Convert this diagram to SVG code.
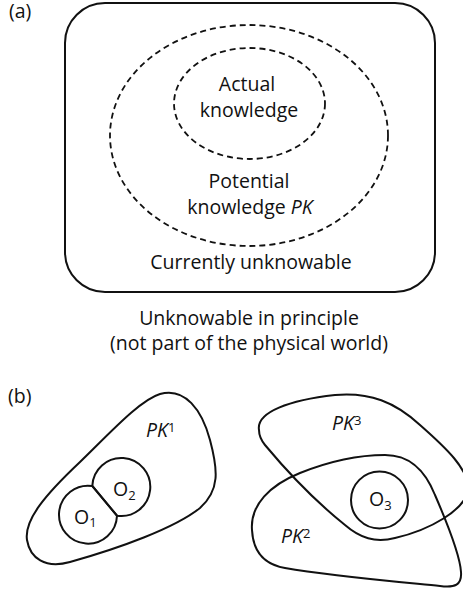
<svg xmlns="http://www.w3.org/2000/svg" width="463" height="590" viewBox="0 0 463 590">
<style>
  text { font-family: "Open Sans", "Noto Sans", "Liberation Sans", sans-serif; font-size: 19.5px; fill: #111; }
  .c { text-anchor: middle; }
  .it { font-style: italic; }
  .sub { font-size: 13px; font-style: normal; }
  .solid { fill: none; stroke: #111; stroke-width: 2; }
  .dash { fill: none; stroke: #111; stroke-width: 1.8; stroke-dasharray: 6 4; }
</style>
<rect width="463" height="590" fill="#fff"/>
<g id="panel-a">
  <text id="label-a" x="9" y="18">(a)</text>
  <g id="currently-unknowable">
    <rect class="solid" x="65" y="3" width="370" height="289" rx="40" ry="40"/>
    <text class="c" x="251" y="269">Currently unknowable</text>
  </g>
  <g id="potential-knowledge">
    <ellipse class="dash" cx="249" cy="135.5" rx="139" ry="110.5"/>
    <text class="c" x="249" y="188">Potential</text>
    <text class="c" x="250" y="214">knowledge <tspan class="it">PK</tspan></text>
  </g>
  <g id="actual-knowledge">
    <ellipse class="dash" cx="249.5" cy="103.5" rx="75.5" ry="55.5"/>
    <text class="c" x="247" y="91">Actual</text>
    <text class="c" x="249" y="117">knowledge</text>
  </g>
  <g id="unknowable-in-principle">
    <text class="c" x="249" y="325">Unknowable in principle</text>
    <text class="c" x="249" y="350">(not part of the physical world)</text>
  </g>
</g>
<g id="panel-b">
  <text id="label-b" x="8" y="403">(b)</text>
  <g id="PK1">
    <path class="solid" d="M 27,540 C 24,520 45,495 80,462 C 110,433 140,400 160,394 C 185,387 202,410 210,440 C 218,470 220,490 200,508 C 175,528 120,548 70,562 C 45,569 30,558 27,540 Z"/>
    <text class="it" x="146" y="437">PK<tspan class="sub" dy="-5.5">1</tspan></text>
  </g>
  <g id="O2">
    <path class="solid" d="M 92.3,486 A 29 29 0 1 1 117,515.7 Z"/>
    <text x="113" y="496">O<tspan class="sub" dy="3.5">2</tspan></text>
  </g>
  <g id="O1">
    <path class="solid" d="M 117,515.7 A 29 29 0 1 1 92.3,486 Z"/>
    <text x="74" y="524">O<tspan class="sub" dy="3">1</tspan></text>
  </g>
  <g id="PK3">
    <path class="solid" d="M 259,430 C 256,412 290,400 335,395 C 370,392 395,402 420,425 C 445,447 470,470 468,490 C 465,510 430,530 395,538 C 375,543 360,538 345,525 C 320,505 290,475 265,445 C 261,440 259,435 259,430 Z"/>
    <text class="it" x="332" y="430">PK<tspan class="sub" dy="-5.5">3</tspan></text>
  </g>
  <g id="PK2">
    <path class="solid" d="M 252,530 C 250,505 270,485 300,473 C 330,461 360,455 385,455 C 410,455 425,470 435,495 C 448,525 460,555 461,572 C 462,585 455,588 440,586 C 400,582 330,576 285,568 C 262,564 253,550 252,530 Z"/>
    <text class="it" x="281" y="543">PK<tspan class="sub" dy="-5.5">2</tspan></text>
  </g>
  <g id="O3">
    <circle class="solid" cx="379.5" cy="500" r="28.5"/>
    <text x="369" y="506">O<tspan class="sub" dy="3.5">3</tspan></text>
  </g>
</g>
<g id="connectors"/>
</svg>
